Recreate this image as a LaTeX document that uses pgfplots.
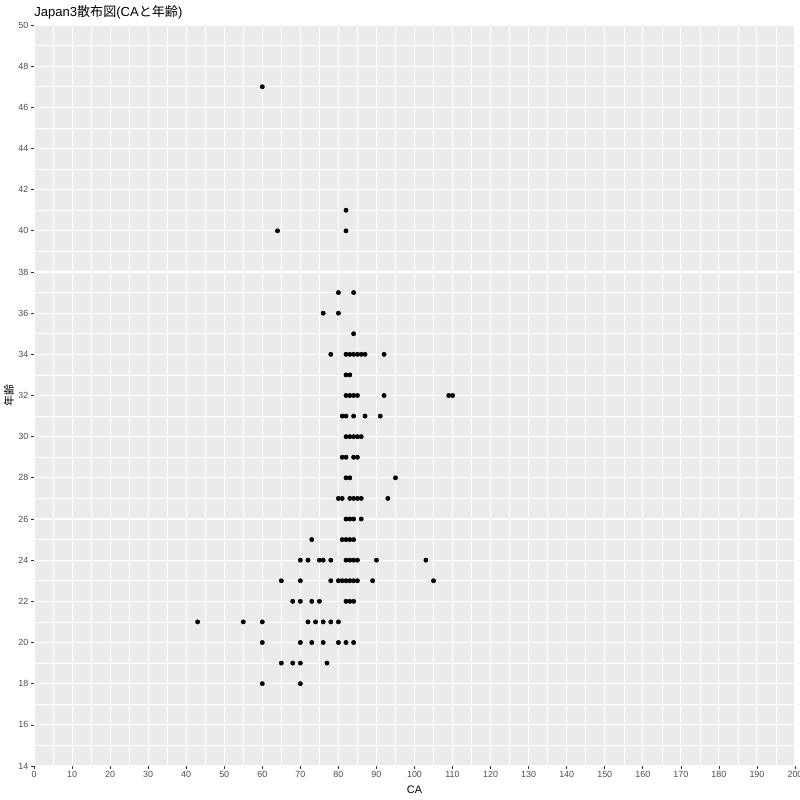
\documentclass[border=0pt]{standalone}
\usepackage{fontspec}
\setmainfont{Liberation Sans}
\newfontfamily\cjk{Noto Sans CJK JP}
\usepackage{pgfplots}
\pgfplotsset{compat=1.18}
\definecolor{panelbg}{HTML}{EBEBEB}
\definecolor{ticklab}{HTML}{4D4D4D}
\definecolor{tickcol}{HTML}{333333}
\begin{document}
\begin{tikzpicture}
\path[use as bounding box] (-25.5pt,-25.5pt) rectangle (574.5pt,574.5pt);
\begin{axis}[
  at={(0,0)}, anchor=south west,
  scale only axis, width=570.75pt, height=555.75pt,
  xmin=0, xmax=200, ymin=14, ymax=50,
  xtick={0,10,...,200}, ytick={14,16,...,50},
  minor x tick num=1, minor y tick num=1,
  grid=both,
  major grid style={white, line width=0.8pt},
  minor grid style={white, line width=0.4pt},
  axis background/.style={fill=panelbg},
  axis line style={draw=none},
  tick pos=left, tick align=outside,
  major tick length=2pt, minor tick length=0pt,
  every tick/.style={tickcol, line width=0.5pt},
  /pgf/number format/assume math mode=true,
  tick label style={font=\fontsize{6.7}{7.5}\selectfont, text=ticklab, inner sep=0pt},
  xticklabel style={yshift=-2pt},
  yticklabel style={xshift=-2pt},
  xlabel={CA},
  xlabel style={at={(axis description cs:0.5,0)}, anchor=base, yshift=-20.25pt, inner sep=0pt, font=\fontsize{8.2}{9}\selectfont},
  ylabel={\cjk 年齢},
  ylabel style={at={(axis description cs:-0.0329,0.5)}, anchor=center, inner sep=0pt, font=\fontsize{8.2}{9}\selectfont},
  clip=false,
]
\addplot[only marks, mark=*, mark size=1.6pt, black] table {
x y
60 47
82 41
64 40
82 40
80 37
84 37
76 36
80 36
84 35
78 34
82 34
83 34
84 34
85 34
86 34
87 34
92 34
82 33
83 33
82 32
83 32
84 32
85 32
92 32
109 32
110 32
81 31
82 31
84 31
87 31
91 31
82 30
83 30
84 30
85 30
86 30
81 29
82 29
84 29
85 29
82 28
83 28
95 28
80 27
81 27
83 27
84 27
85 27
86 27
93 27
82 26
83 26
84 26
86 26
73 25
81 25
82 25
83 25
84 25
70 24
72 24
75 24
76 24
78 24
82 24
83 24
84 24
85 24
90 24
103 24
65 23
70 23
78 23
80 23
81 23
82 23
83 23
84 23
85 23
89 23
105 23
68 22
70 22
73 22
75 22
82 22
83 22
84 22
43 21
55 21
60 21
72 21
74 21
76 21
78 21
80 21
60 20
70 20
73 20
76 20
80 20
82 20
84 20
65 19
68 19
70 19
77 19
60 18
70 18
};
\node[anchor=base west, inner sep=0pt, font=\fontsize{9.8}{11}\selectfont] at (rel axis cs:0,1) [yshift=6pt] {Japan3{\cjk 散布図}(CA{\cjk と年齢})};
\end{axis}
\end{tikzpicture}
\end{document}
